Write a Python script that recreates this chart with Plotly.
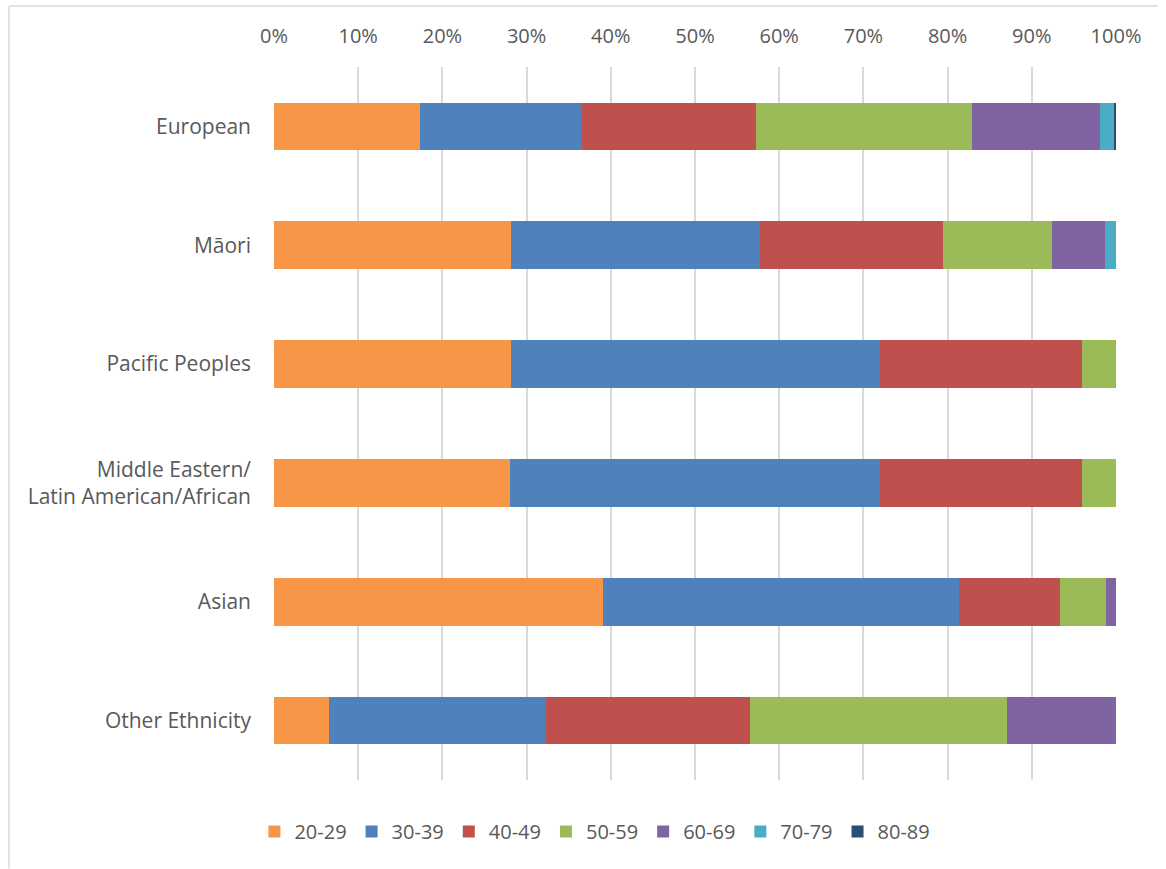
import plotly.graph_objects as go

# Share of each ethnic group by age band (percent of group total)
categories = [
    "European",
    "Māori",
    "Pacific Peoples",
    "Middle Eastern/<br>Latin American/African",
    "Asian",
    "Other Ethnicity",
]
age_bands = ["20-29", "30-39", "40-49", "50-59", "60-69", "70-79", "80-89"]

age_20_29 = [17.3, 28.2, 28.1, 28.0, 39.1, 6.5]
age_30_39 = [19.3, 29.5, 43.9, 44.0, 42.2, 25.8]
age_40_49 = [20.7, 21.8, 24.0, 24.0, 12.0, 24.2]
age_50_59 = [25.6, 12.9, 4.0, 4.0, 5.5, 30.6]
age_60_69 = [15.2, 6.3, 0.0, 0.0, 1.2, 12.9]
age_70_79 = [1.7, 1.3, 0.0, 0.0, 0.0, 0.0]
age_80_89 = [0.2, 0.0, 0.0, 0.0, 0.0, 0.0]

series = [age_20_29, age_30_39, age_40_49, age_50_59, age_60_69, age_70_79, age_80_89]
colors = ["#F79646", "#4F81BD", "#C0504D", "#9BBB59", "#8064A2", "#4BACC6", "#2C4D75"]

font_family = "Open Sans, Liberation Sans, sans-serif"
text_color = "#595959"
font_size = 20

fig = go.Figure()
for name, vals, col in zip(age_bands, series, colors):
    fig.add_trace(
        go.Bar(
            y=categories,
            x=vals,
            name=name,
            orientation="h",
            marker=dict(color=col, line=dict(width=0)),
            width=0.4,
        )
    )

W, H = 1166, 869
ml, mr, mt, mb = 273.6, 50, 66.5, 88.5
pw, ph = W - ml - mr, H - mt - mb

def px_x(x):
    return (x - ml) / pw

def px_y(y):
    return (H - mb - y) / ph

frame = dict(color="#D9D9D9", width=1.5)

fig.update_layout(
    barmode="stack",
    width=W,
    height=H,
    margin=dict(l=ml, r=mr, t=mt, b=mb),
    paper_bgcolor="white",
    plot_bgcolor="white",
    font=dict(family=font_family, size=font_size, color=text_color),
    bargap=0.6,
    xaxis=dict(
        side="top",
        range=[0, 100],
        dtick=10,
        ticksuffix="%",
        showgrid=True,
        gridcolor="#D9D9D9",
        gridwidth=2,
        zeroline=False,
        showline=False,
        ticks="",
        ticklabelstandoff=19,
        tickfont=dict(size=font_size, color=text_color),
        fixedrange=True,
    ),
    yaxis=dict(
        autorange="reversed",
        showgrid=False,
        zeroline=False,
        showline=False,
        ticks="",
        ticklabelstandoff=22,
        tickfont=dict(size=21, color=text_color),
        fixedrange=True,
    ),
    legend=dict(
        orientation="h",
        x=px_x(254),
        xanchor="left",
        y=px_y(832),
        yanchor="middle",
        font=dict(size=font_size, color=text_color),
        traceorder="normal",
        itemwidth=30,
    ),
    shapes=[
        # chart frame: top and left edges
        dict(type="line", xref="paper", yref="paper",
             x0=px_x(8.5), x1=px_x(1158), y0=px_y(5.5), y1=px_y(5.5),
             line=frame, layer="below"),
        dict(type="line", xref="paper", yref="paper",
             x0=px_x(8.5), x1=px_x(8.5), y0=px_y(5.5), y1=px_y(869),
             line=frame, layer="below"),
    ],
)

fig.write_html("out.html")
